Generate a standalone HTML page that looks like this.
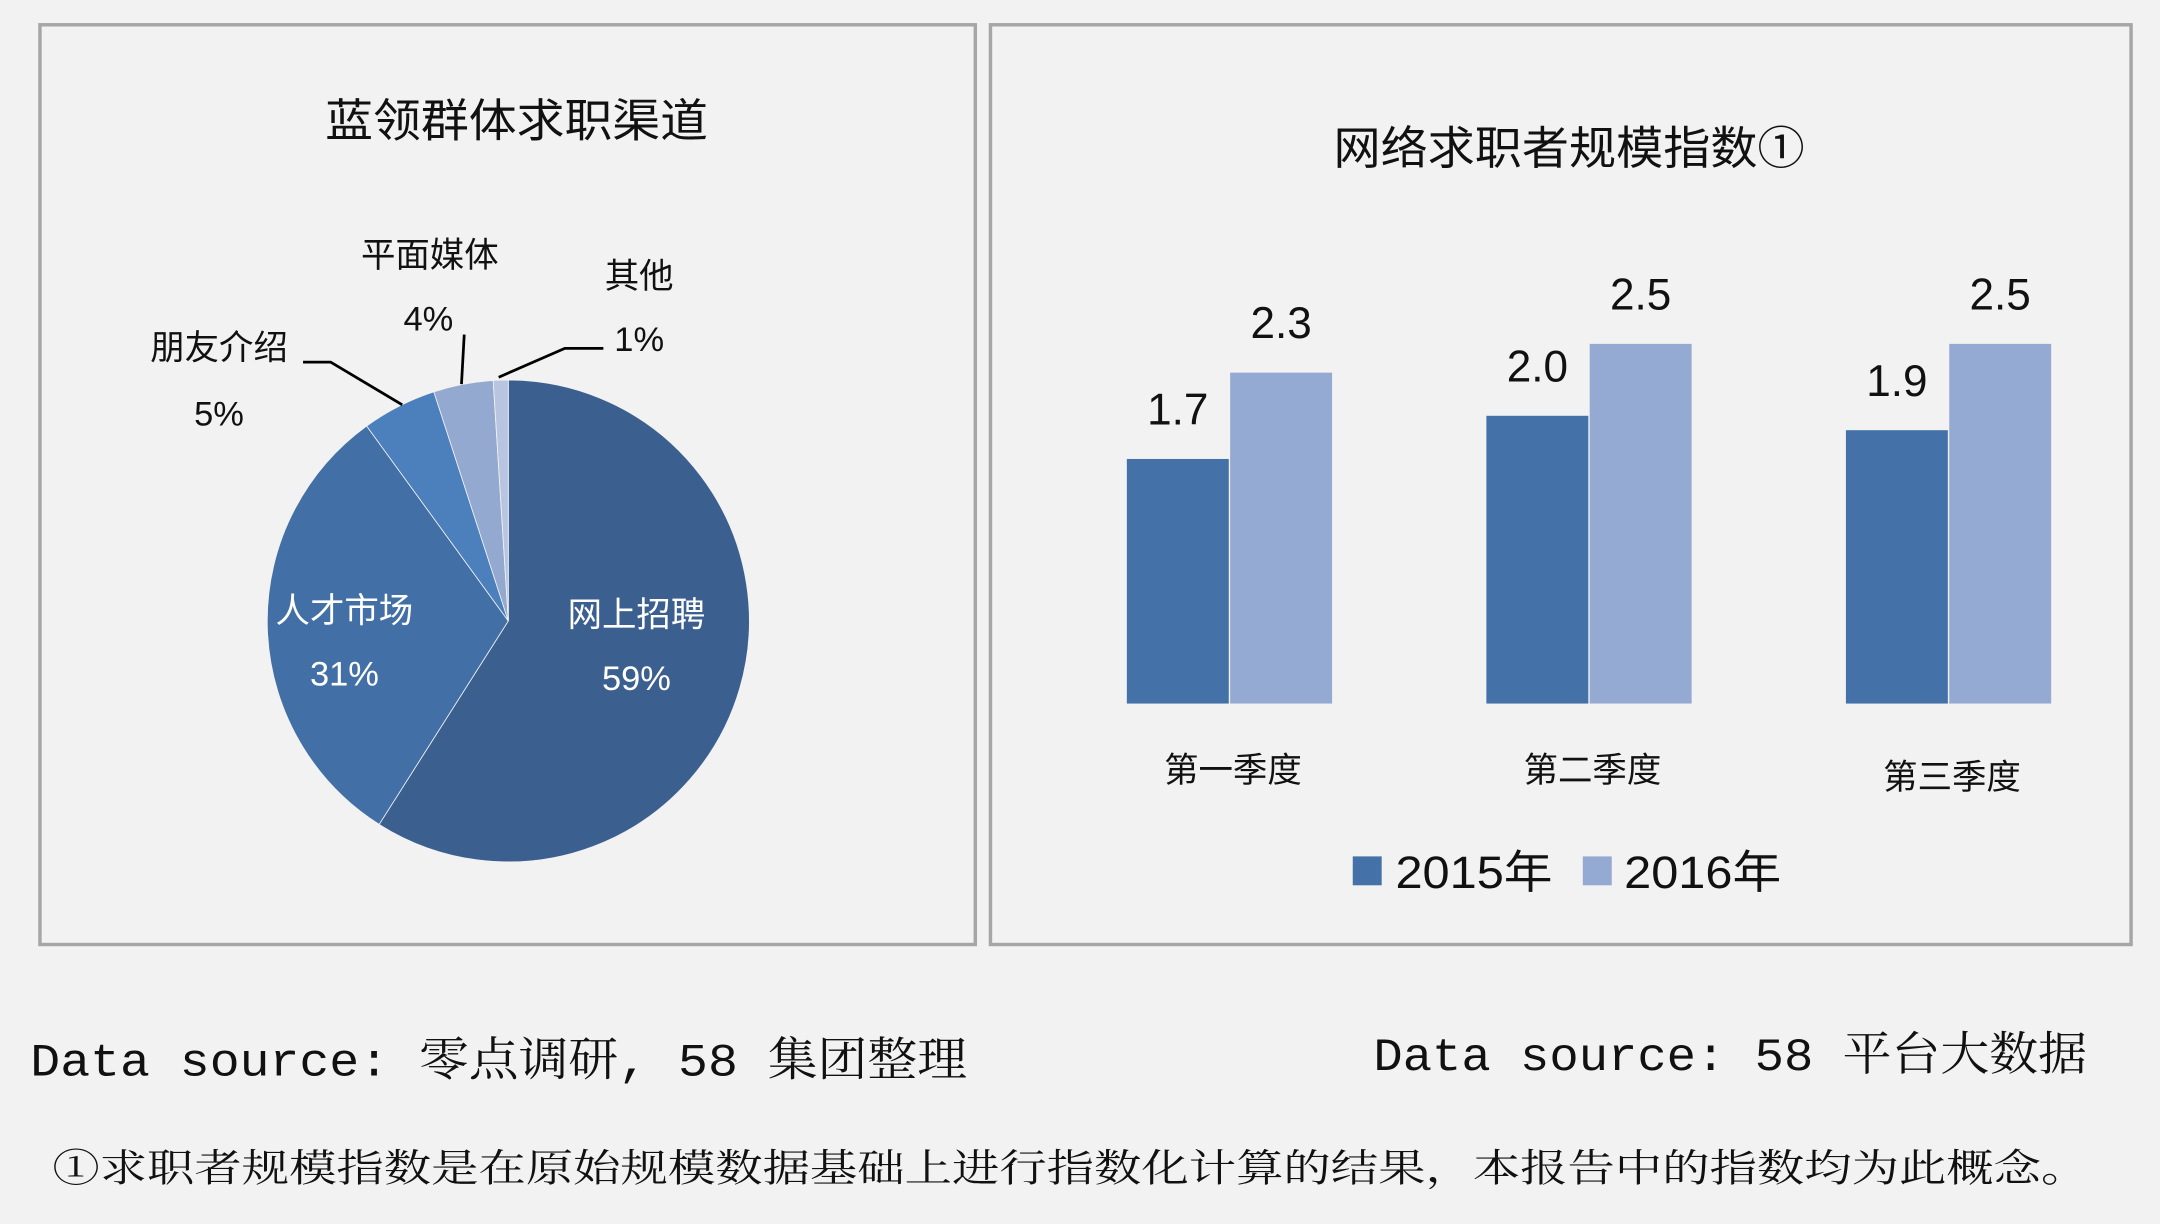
<!DOCTYPE html>
<html><head><meta charset="utf-8">
<style>
html,body{margin:0;padding:0;background:#f2f2f2;}
svg{display:block;}
.s{font-family:"Liberation Sans","Noto Sans CJK SC",sans-serif;}
.m{font-family:"Liberation Mono","Noto Serif CJK SC",monospace;}
</style></head>
<body>
<svg width="2160" height="1224" viewBox="0 0 1568 889" preserveAspectRatio="none" xmlns="http://www.w3.org/2000/svg">
<rect width="1568" height="889" fill="#f2f2f2"/>
<rect x="29" y="18" width="679" height="668" fill="#f2f2f2" stroke="#a6a6a6" stroke-width="2.5"/>
<rect x="719" y="18" width="828" height="668" fill="#f2f2f2" stroke="#a6a6a6" stroke-width="2.5"/>
<text class="s" x="236" y="99" font-size="33" textLength="278" lengthAdjust="spacingAndGlyphs" fill="#111">蓝领群体求职渠道</text>
<text class="s" x="968" y="119" font-size="33" textLength="342" lengthAdjust="spacingAndGlyphs" fill="#111">网络求职者规模指数①</text>
<g id="pie"></g>
<g id="pielabels" class="s" font-size="25" fill="#111">
<text x="159" y="261" text-anchor="middle">朋友介绍</text>
<text x="159" y="309" text-anchor="middle">5%</text>
<text x="312" y="194" text-anchor="middle">平面媒体</text>
<text x="311" y="240" text-anchor="middle">4%</text>
<text x="464" y="209" text-anchor="middle">其他</text>
<text x="464" y="255" text-anchor="middle">1%</text>
<text x="250" y="452" text-anchor="middle" fill="#fff">人才市场</text>
<text x="250" y="498" text-anchor="middle" fill="#fff">31%</text>
<text x="462" y="455" text-anchor="middle" fill="#fff">网上招聘</text>
<text x="462" y="501" text-anchor="middle" fill="#fff">59%</text>
</g>
<g fill="none" stroke="#000" stroke-width="2">
<polyline points="220,263 240,263 292,294"/>
<polyline points="337,243 335,279"/>
<polyline points="438,253 410,253 362,274"/>
</g>
<g id="bars"></g>
<g class="s" font-size="33" fill="#111">
<rect x="982" y="622" width="21" height="21" fill="#4472a8"/>
<text x="1013" y="645" textLength="114" lengthAdjust="spacingAndGlyphs">2015年</text>
<rect x="1149" y="622" width="21" height="21" fill="#94aad2"/>
<text x="1179" y="645" textLength="114" lengthAdjust="spacingAndGlyphs">2016年</text>
</g>
<text class="m" x="22" y="781" font-size="34" textLength="680" lengthAdjust="spacingAndGlyphs" fill="#111">Data source: 零点调研, 58 集团整理</text>
<text class="m" x="997" y="777" font-size="34" textLength="518" lengthAdjust="spacingAndGlyphs" fill="#111">Data source: 58 平台大数据</text>
<text class="m" x="38" y="858" font-size="28" textLength="1478" lengthAdjust="spacingAndGlyphs" fill="#111">①求职者规模指数是在原始规模数据基础上进行指数化计算的结果，本报告中的指数均为此概念。</text>
</svg>
<script>
const NS='http://www.w3.org/2000/svg';
const pieNames=['online','talent','friends','print','other'];
const pieValues=[59,31,5,4,1];
const pieColors=['#3b6090','#4270a6','#4b80bc','#93a9cf','#b8c5e1'];
const categories=['第一季度','第二季度','第三季度'];
const v2015=[1.7,2.0,1.9];
const v2016=[2.3,2.5,2.5];
// pie
(function(){
 const g=document.getElementById('pie');const cx=369,cy=451,r=175;
 const tot=pieValues.reduce((a,b)=>a+b,0);let a0=0;
 pieValues.forEach((v,i)=>{
  const a1=a0+v/tot*2*Math.PI;
  const x0=cx+r*Math.sin(a0),y0=cy-r*Math.cos(a0),x1=cx+r*Math.sin(a1),y1=cy-r*Math.cos(a1);
  const p=document.createElementNS(NS,'path');
  p.setAttribute('d',`M${cx},${cy}L${x0},${y0}A${r},${r} 0 ${a1-a0>Math.PI?1:0} 1 ${x1},${y1}Z`);
  p.setAttribute('fill',pieColors[i]);p.setAttribute('stroke','#f2f2f2');p.setAttribute('stroke-width','0.6');
  
  
  g.appendChild(p);a0=a1;
 });
})();
// bars
(function(){
 const g=document.getElementById('bars');const base=511,unit=104.5,w=74;
 const x0=818,step=261;
 const y=v=>base-v*unit;
 categories.forEach((c,i)=>{
  const xa=x0+i*step;
  [[v2015[i],'#4472a8',xa,'2015'],[v2016[i],'#94aad2',xa+w+1,'2016']].forEach(([v,col,x,yr])=>{
   const r=document.createElementNS(NS,'rect');
   r.setAttribute('x',x);r.setAttribute('y',y(v));r.setAttribute('width',w);r.setAttribute('height',base-y(v));r.setAttribute('fill',col);
   
   
   g.appendChild(r);
   const t=document.createElementNS(NS,'text');
   t.setAttribute('x',x+w/2);t.setAttribute('y',y(v)-25);t.setAttribute('text-anchor','middle');
   t.setAttribute('class','s');t.setAttribute('font-size','32');t.setAttribute('fill','#111');
   t.textContent=v.toFixed(1);
   
   
   g.appendChild(t);
  });
  const t=document.createElementNS(NS,'text');
  t.setAttribute('x',xa+w+3);t.setAttribute('y',568+(i==2?5:0));t.setAttribute('text-anchor','middle');
  t.setAttribute('class','s');t.setAttribute('font-size','25');t.setAttribute('fill','#111');
  t.textContent=c;
  
  
  g.appendChild(t);
 });
})();
</script>
</body></html>
